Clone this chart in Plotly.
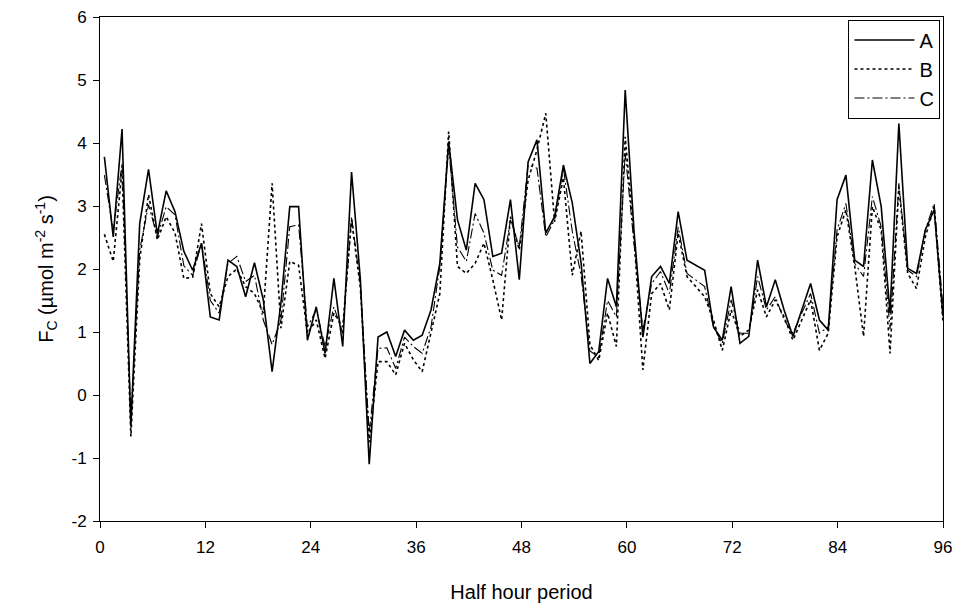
import plotly.graph_objects as go

periods = list(range(1, 97))

series_A = [3.78, 2.51, 4.22, -0.5, 2.72, 3.58, 2.55, 3.24, 2.91, 2.28,
            1.98, 2.41, 1.24, 1.19, 2.14, 2.04, 1.56, 2.1, 1.51, 0.37,
            1.46, 2.99, 2.99, 0.87, 1.4, 0.66, 1.85, 0.77, 3.54, 1.83,
            -1.1, 0.92, 1.0, 0.61, 1.03, 0.87, 0.95, 1.35, 2.09, 4.02,
            2.78, 2.3, 3.36, 3.1, 2.2, 2.25, 3.1, 1.83, 3.7, 4.05,
            2.57, 2.83, 3.65, 3.05, 2.1, 0.5, 0.69, 1.85, 1.4, 4.84,
            2.6, 0.92, 1.88, 2.04, 1.77, 2.91, 2.14, 2.06, 1.98, 1.08,
            0.87, 1.72, 0.82, 0.93, 2.14, 1.4, 1.83, 1.35, 0.93, 1.35,
            1.77, 1.19, 1.03, 3.1, 3.49, 2.14, 2.04, 3.73, 2.99, 1.3,
            4.31, 2.01, 1.93, 2.62, 2.94, 1.25]

series_B = [2.55, 2.12, 3.57, -0.66, 2.15, 3.18, 2.46, 2.83, 2.57, 1.85,
            1.87, 2.72, 1.61, 1.4, 1.88, 2.0, 1.72, 1.61, 1.3, 3.36,
            1.06, 2.12, 2.06, 0.98, 1.19, 0.58, 1.3, 1.08, 2.78, 1.7,
            -0.75, 0.53, 0.53, 0.32, 0.82, 0.56, 0.37, 0.98, 1.61, 4.18,
            2.04, 1.93, 2.09, 2.41, 1.83, 1.19, 2.83, 2.3, 3.41, 3.89,
            4.47, 2.75, 3.45, 1.9, 2.6, 0.8, 0.55, 1.3, 0.77, 4.1,
            2.5, 0.4, 1.61, 1.77, 1.35, 2.57, 1.88, 1.72, 1.56, 1.19,
            0.71, 1.35, 0.93, 1.03, 1.67, 1.24, 1.51, 1.24, 0.87, 1.19,
            1.51, 0.71, 0.98, 2.51, 2.94, 2.04, 0.93, 2.99, 2.62, 0.66,
            3.3, 1.93, 1.69, 2.51, 2.99, 1.15]

series_C = [3.49, 2.6, 3.68, -0.4, 2.3, 3.02, 2.51, 2.99, 2.86, 2.05,
            1.9, 2.41, 1.5, 1.3, 2.09, 2.2, 1.8, 1.9, 1.19, 0.8,
            1.19, 2.67, 2.7, 1.08, 1.35, 0.77, 1.4, 0.98, 2.83, 1.75,
            -0.6, 0.74, 0.75, 0.42, 0.92, 0.77, 0.66, 1.08, 2.04, 3.94,
            2.35, 2.12, 2.88, 2.57, 1.98, 1.9, 2.78, 2.35, 3.65, 3.6,
            2.51, 2.78, 3.6, 2.6, 1.9, 0.7, 0.6, 1.5, 1.24, 3.84,
            2.4, 1.03, 1.77, 1.96, 1.61, 2.67, 1.93, 1.83, 1.72, 1.08,
            0.82, 1.51, 0.98, 0.98, 1.88, 1.35, 1.56, 1.19, 0.98, 1.3,
            1.61, 0.98, 1.08, 2.62, 3.04, 2.09, 1.88, 3.15, 2.67, 1.05,
            3.36, 1.98, 1.88, 2.62, 3.04, 1.4]

x_ticks = [0, 12, 24, 36, 48, 60, 72, 84, 96]
y_ticks = [-2, -1, 0, 1, 2, 3, 4, 5, 6]
y_tick_labels = ["-2", "-1", "0", "1", "2", "3", "4", "5", "6"]

# plotted positions of the half-hour periods (first at 0.5, last at 96)
x_pos = [0.5 + (p - 1) * 95.5 / 95 for p in periods]

font_family = "Liberation Sans, Arial, sans-serif"

fig = go.Figure()
fig.add_trace(go.Scatter(x=x_pos, y=series_A, mode="lines", name="A",
                         line=dict(color="black", width=1.6, dash="solid")))
fig.add_trace(go.Scatter(x=x_pos, y=series_B, mode="lines", name="B",
                         line=dict(color="black", width=1.6, dash="dot")))
fig.add_trace(go.Scatter(x=x_pos, y=series_C, mode="lines", name="C",
                         line=dict(color="black", width=1.1, dash="10px,3px,2px,3px")))

axis_common = dict(
    showgrid=False, zeroline=False, showline=True, linecolor="black",
    linewidth=1, mirror=True, ticks="outside", ticklen=6, tickcolor="black",
    automargin=False,
    tickfont=dict(family=font_family, size=17, color="black"),
)

fig.update_layout(
    width=960, height=604,
    margin=dict(l=100, r=17, t=17, b=83),
    paper_bgcolor="white", plot_bgcolor="white",
    font=dict(family=font_family, size=17, color="black"),
    xaxis=dict(range=[0, 96], tickvals=x_ticks, ticklabelstandoff=5,
               title=dict(text="Half hour period", font=dict(size=20), standoff=28),
               **axis_common),
    yaxis=dict(range=[-2, 6], tickvals=y_ticks, ticktext=y_tick_labels,
               ticklabelstandoff=3,
               title=dict(text="F<sub>C</sub> (µmol m<sup>-2</sup> s<sup>-1</sup>)",
                          font=dict(size=20), standoff=12),
               **axis_common),
    legend=dict(x=0.997, y=0.995, xanchor="right", yanchor="top",
                bordercolor="black", borderwidth=1, bgcolor="white",
                font=dict(family=font_family, size=20, color="black"),
                itemwidth=60, tracegroupgap=4),
    showlegend=True,
)

fig.write_html("out.html")
